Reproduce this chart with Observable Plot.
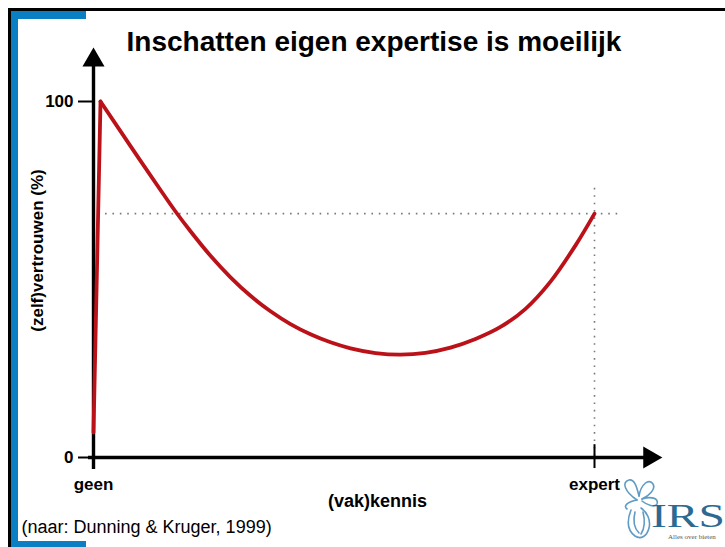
<!DOCTYPE html>
<html>
<head>
<meta charset="utf-8">
<script src="https://cdn.jsdelivr.net/npm/d3@7"></script>
<script src="https://cdn.jsdelivr.net/npm/@observablehq/plot@0.6"></script>
<style>
  html, body { margin: 0; padding: 0; background: #fff; }
  #wrap { position: relative; width: 725px; height: 547px; overflow: hidden; background: #fff; font-family: "Liberation Sans", Arial, sans-serif; }
  .deco { position: absolute; }
  #chart { position: absolute; left: 0; top: 0; }
</style>
</head>
<body>
<div id="wrap">
  <div class="deco" style="left:8px;top:8px;width:717px;height:3px;background:#000"></div>
  <div class="deco" style="left:8px;top:8px;width:3px;height:539px;background:#000"></div>
  <div class="deco" style="left:11px;top:11px;width:75px;height:8px;background:#0a7fc4"></div>
  <div class="deco" style="left:11px;top:11px;width:7px;height:536px;background:#0a7fc4"></div>
  <div class="deco" style="left:11px;top:541px;width:75px;height:6px;background:#0a7fc4"></div>
  <div id="chart"></div>
  <svg class="deco" style="left:615px;top:470px" width="110" height="77" viewBox="0 0 110 77">
    <g fill="none" stroke="#5f9cc4" stroke-width="1.6" stroke-linecap="round">
      <path d="M22 30 C10 22 6 12 14 10 C20 9 22 18 24 26"/>
      <path d="M24 26 C26 14 34 8 38 14 C41 19 34 26 27 29"/>
      <path d="M27 29 C36 26 44 28 42 34 C40 38 32 35 27 31"/>
      <path d="M22 30 C12 32 8 36 12 39"/>
      <path d="M16 40 C12 50 12 60 20 66 C26 70 32 66 34 58 C36 50 32 42 26 38"/>
      <path d="M20 42 C18 50 19 58 24 63"/>
      <path d="M28 42 C30 50 30 58 26 64"/>
    </g>
    <text x="36" y="57" font-family="Liberation Serif, Times New Roman, serif" font-size="34" fill="#2b6a93" textLength="74" lengthAdjust="spacingAndGlyphs">IRS</text>
    <text x="53" y="69" font-family="Liberation Serif, serif" font-size="7" fill="#555">Alles over bieten</text>
  </svg>
</div>
<script>
// ---- data ----
const riseX = [0, 1.4];
const riseY = [7, 100];
const fallX = [1.4, 7.39, 13.37, 16.37, 19.36, 23.35, 27.35, 31.34, 35.33, 39.32, 43.31, 47.31, 51.30, 56.29, 61.28, 66.27, 71.26, 76.25, 81.24, 86.23, 91.22, 96.21, 100];
const fallY = [100, 87.47, 75.14, 69.10, 63.54, 56.66, 50.62, 45.42, 41.07, 37.47, 34.61, 32.36, 30.67, 29.35, 28.90, 29.41, 30.87, 33.29, 36.66, 41.77, 49.41, 59.58, 68.5];
const yTicks = [0, 100];
const xTickValues = [0, 100];
const xTickLabels = ["geen", "expert"];
const expertConfidence = 68.5;
const titleText = "Inschatten eigen expertise is moeilijk";
const xLabel = "(vak)kennis";
const yLabel = "(zelf)vertrouwen (%)";
const captionText = "(naar: Dunning & Kruger, 1999)";

// tables built from the arrays
const rise = riseX.map((x, i) => ({x, y: riseY[i]}));
const fall = fallX.map((x, i) => ({x, y: fallY[i]}));
const xTicks = xTickValues.map((v, i) => ({v, label: xTickLabels[i]}));

const font = "Liberation Sans, Arial, sans-serif";
const red = "#bb1219";

const chart = Plot.plot({
  width: 725,
  height: 547,
  margin: 0,
  style: {fontFamily: font, background: "transparent", overflow: "visible"},
  x: {domain: [0, 100], range: [93, 594], axis: null},
  y: {domain: [0, 100], range: [457, 101], axis: null},
  marks: [
    // dotted guide lines
    Plot.ruleY([expertConfidence], {x1: 2.4, x2: 104.8, stroke: "#7a7a7a", strokeWidth: 1.6, strokeDasharray: "1.6,5.8"}),
    Plot.ruleX([100], {y1: 75.6, y2: 0, stroke: "#7a7a7a", strokeWidth: 1.6, strokeDasharray: "1.6,5.8"}),
    // axes lines
    Plot.ruleX([0], {y1: -3.4, y2: 111, stroke: "#000", strokeWidth: 3.4}),
    Plot.ruleY([0], {x1: -1, x2: 110.5, stroke: "#000", strokeWidth: 3.4}),
    // curve
    Plot.line(rise, {x: "x", y: "y", stroke: red, strokeWidth: 3.8, strokeLinejoin: "miter"}),
    Plot.line(fall, {x: "x", y: "y", stroke: red, strokeWidth: 3.8, curve: "catmull-rom", strokeLinecap: "round"}),
    // ticks
    Plot.ruleY(yTicks, {x1: -3, x2: 0, stroke: "#000", strokeWidth: 2}),
    Plot.ruleX(xTicks, {x: "v", y1: -3.1, y2: 3.6, stroke: "#000", strokeWidth: 2}),
    Plot.text(yTicks, {x: 0, y: d => d, text: d => String(d), dx: -20, textAnchor: "end", fontSize: 17, fontWeight: "bold", fill: "#000"}),
    Plot.text(xTicks, {x: "v", y: 0, text: "label", dy: 32, lineAnchor: "bottom", textAnchor: "middle", fontSize: 17, fontWeight: "bold", fill: "#000"}),
    // arrow heads
    Plot.dot([0], {x: d => d, y: () => 111.6, symbol: "triangle", r: 8.2, fill: "#000", stroke: null}),
    Plot.dot([0], {x: () => 111.0, y: d => d, symbol: "triangle", r: 8.2, fill: "#000", stroke: null, rotate: 90}),
    // texts
    Plot.text([titleText], {frameAnchor: "top-left", dx: 373.5, dy: 50, lineAnchor: "bottom", textAnchor: "middle", fontSize: 28, fontWeight: "bold", fill: "#000"}),
    Plot.text([xLabel], {frameAnchor: "top-left", dx: 377, dy: 506, lineAnchor: "bottom", textAnchor: "middle", fontSize: 18, fontWeight: "bold", fill: "#000"}),
    Plot.text([yLabel], {frameAnchor: "top-left", dx: 42, dy: 250, lineAnchor: "bottom", textAnchor: "middle", rotate: -90, fontSize: 17, fontWeight: "bold", fill: "#000"}),
    Plot.text([captionText], {frameAnchor: "top-left", dx: 21, dy: 532, lineAnchor: "bottom", textAnchor: "start", fontSize: 18, fill: "#000"})
  ]
});
document.getElementById("chart").appendChild(chart);
</script>
</body>
</html>
